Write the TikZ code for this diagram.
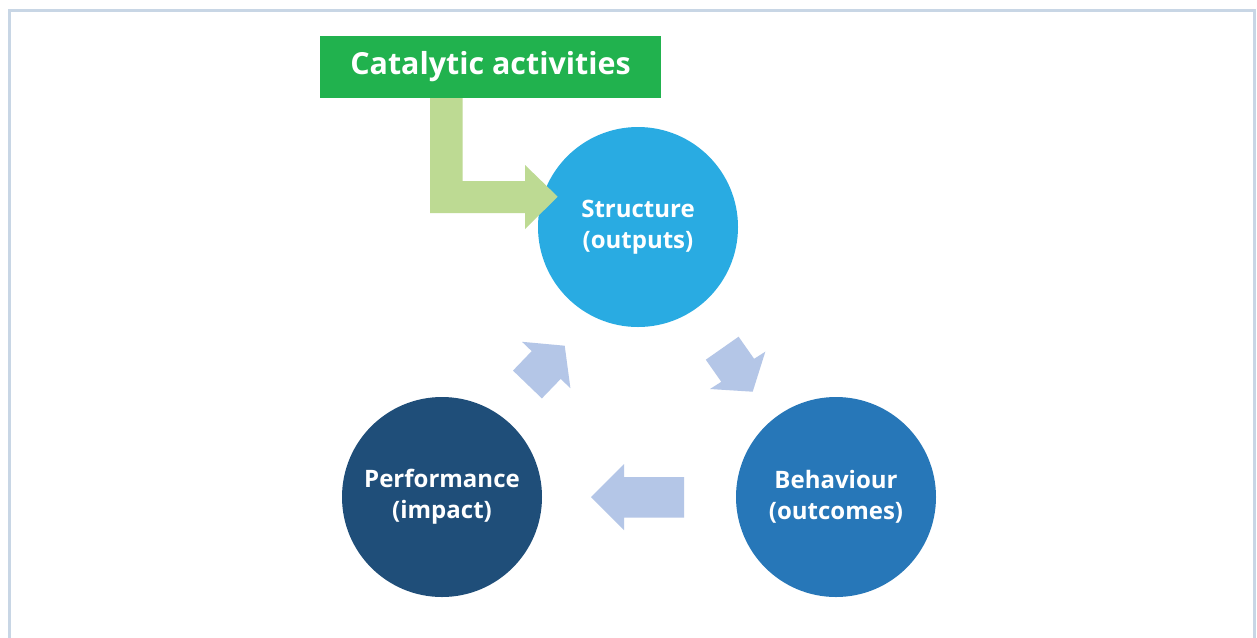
\documentclass[tikz,border=0pt]{standalone}
\usepackage{fontspec}
\setmainfont{Open Sans}
\definecolor{frame}{HTML}{C8D6E5}
\definecolor{titlegreen}{HTML}{21B24E}
\definecolor{lgreen}{HTML}{BDDA93}
\definecolor{cstruct}{HTML}{29ABE2}
\definecolor{cbehav}{HTML}{2777B8}
\definecolor{cperf}{HTML}{1F4E79}
\definecolor{larrow}{HTML}{B4C6E7}
\tikzset{
  circ/.style={circle, minimum size=200*0.75pt, inner sep=0pt, text=white, align=center,
    font=\bfseries\fontsize{18pt}{23.25pt}\selectfont},
  blockarrow/.style={fill=larrow, draw=none},
}
\begin{document}
\begin{tikzpicture}[x=0.75pt, y=-0.75pt]
\useasboundingbox (0,0) rectangle (1257,637);
\fill[white] (0,0) rectangle (1257,637);
% frame
\draw[frame, line width=2.2pt] (9.5,640) -- (9.5,10.5) -- (1254.5,10.5) -- (1254.5,640);
% title
\node[fill=titlegreen, minimum width=341*0.75pt, minimum height=62*0.75pt, inner sep=0pt,
  text=white, font=\bfseries\fontsize{22.8pt}{26pt}\selectfont] (title) at (490.5,67) {Catalytic activities};
% circles
\node[circ, fill=cstruct] (struct) at (638,227) {Structure\\(outputs)};
\node[circ, fill=cbehav] (behav) at (836,497) {Behaviour\\(outcomes)};
\node[circ, fill=cperf] (perf) at (442,497) {Performance\\(impact)};
% green L arrow
\coordinate (gtip) at (557.7,196.7);
\fill[lgreen] (430,98) -- (462.5,98) -- (462.5,181) -- (525,181) -- (525,165) -- (gtip)
  -- (525,229) -- (525,213) -- (430,213) -- cycle;
% left arrow (behaviour -> performance)
\fill[blockarrow] (684,477) -- (624,477) -- (624,464) -- (591,497) -- (624,530) -- (624,517.5) -- (684,517.5) -- cycle;
% upper-left arrow (performance -> structure)
\fill[blockarrow] (541.9,398.4) -- (560.7,378.9) -- (570.4,388.2) -- (564.7,345.7) -- (522.0,341.8) -- (531.7,351.1) -- (513.0,370.6) -- cycle;
% right arrow (structure -> behaviour)
\fill[blockarrow] (738.6,336.7) -- (754.1,358.8) -- (765.3,351.7) -- (752.7,391.7) -- (710,389) -- (721.3,381.8) -- (705.8,359.7) -- cycle;
\end{tikzpicture}
\end{document}
